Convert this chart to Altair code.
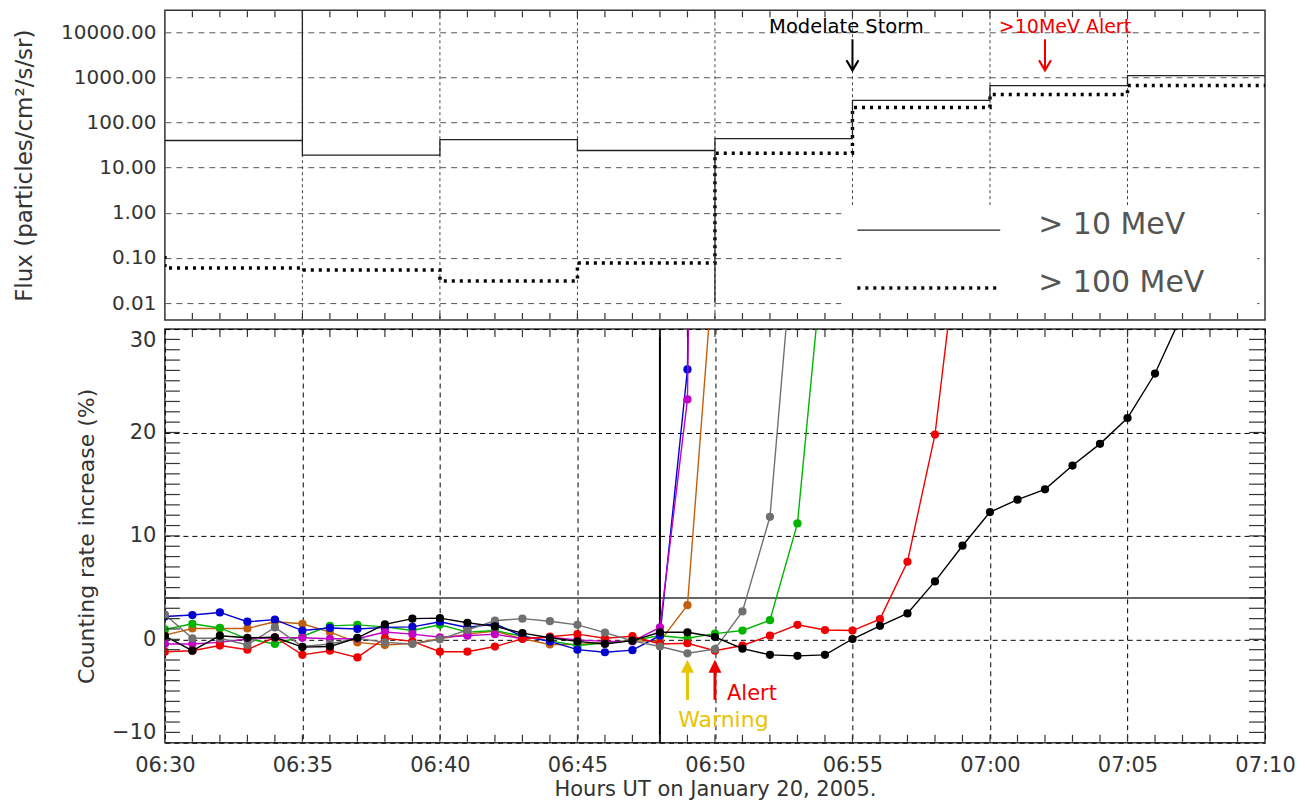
import altair as alt
import pandas as pd

FONT = "DejaVu Sans"

def tmin(s):
    h, m = s.split(":")
    return int(h) * 60 + int(m)

# ---------------- top panel: 5-minute integral proton flux ----------------
bin_starts = ["06:30", "06:35", "06:40", "06:45", "06:50", "06:55", "07:00", "07:05"]
bin_end = "07:10"
flux_gt10 = [40, 19, 42, 24, 44, 310, 660, 1100]
flux_gt100 = [0.060, 0.054, 0.031, 0.077, 21, 215, 420, 660]
flux_gt100_prev = 0.11
spikes_gt10 = {"06:35": 1e6, "06:50": 0.01}
legend_labels = ["> 10 MeV", "> 100 MeV"]
storm_time, storm_label = "06:55", "Modelate Storm"
alert10_time, alert10_label = "07:02", ">10MeV Alert"

# ---------------- bottom panel: counting rate increase (%) ----------------
times = ["06:30", "06:31", "06:32", "06:33", "06:34", "06:35", "06:36", "06:37", "06:38", "06:39",
         "06:40", "06:41", "06:42", "06:43", "06:44", "06:45", "06:46", "06:47", "06:48", "06:49",
         "06:50", "06:51", "06:52", "06:53", "06:54", "06:55", "06:56", "06:57", "06:58", "06:59",
         "07:00", "07:01", "07:02", "07:03", "07:04", "07:05", "07:06", "07:07"]
brown = [0.4, 1.05, 1.05, 1.05, 1.7, 1.5, 0.7, -0.3, -0.55, -0.4, 0.05, 0.5, 0.8, 0.05, -0.5, -0.5,
         -0.3, -0.15, -0.2, 3.3, 38]
green = [0.95, 1.5, 1.1, 0.05, -0.45, 0.3, 1.3, 1.4, 1.2, 0.85, 1.4, 0.7, 0.85, 0.3, -0.15, -0.6,
         -0.35, -0.1, 0.35, 0.1, 0.55, 0.85, 1.85, 11.2, 39]
blue = [2.2, 2.35, 2.6, 1.7, 1.9, 0.85, 1.1, 1.0, 1.15, 1.2, 1.7, 1.15, 1.5, 0.3, -0.2, -1.0,
        -1.25, -1.05, 0.35, 26.1, 250]
magenta = [-0.45, -0.45, -0.3, 0.05, 0.15, 0.15, 0.05, 0.05, 0.7, 0.5, 0.2, 0.35, 0.5, 0.05, 0.2,
           -0.05, -0.2, -0.2, 1.15, 23.2, 230]
red = [-1.2, -1.1, -0.6, -1.0, 0.2, -1.5, -1.1, -1.75, 0.1, -0.2, -1.2, -1.2, -0.7, 0.05, 0.25,
       0.5, 0.1, 0.3, -0.45, -0.38, -1.1, -0.6, 0.35, 1.4, 0.9, 0.85, 1.95, 7.5, 19.8, 42]
gray = [2.4, 0.1, 0.1, -0.55, 1.15, -0.7, -0.45, 0.1, -0.3, -0.45, 0.0, 0.9, 1.8, 2.0, 1.75, 1.4,
        0.65, -0.15, -0.7, -1.35, -0.95, 2.7, 11.85, 43]
black = [0.3, -1.1, 0.35, 0.15, 0.2, -0.75, -0.7, 0.15, 1.45, 2.0, 2.05, 1.6, 1.25, 0.6, 0.15, -0.2,
         -0.45, -0.13, 0.68, 0.68, 0.22, -0.9, -1.5, -1.6, -1.5, 0.03, 1.3, 2.5, 5.6, 9.05, 12.3,
         13.5, 14.5, 16.8, 18.9, 21.4, 25.7, 31.5]
series = [("brown", brown, "#c0600f"), ("green", green, "#00b400"), ("blue", blue, "#0000d0"),
          ("magenta", magenta, "#c400c4"), ("red", red, "#f00000"), ("gray", gray, "#707070"),
          ("black", black, "#000000")]
threshold = 4
onset_time = "06:48"
warning_time, warning_label = "06:49", "Warning"
alert_time, alert_label = "06:50", "Alert"

# ---------------- helpers ----------------
W, H1, H2 = 1101, 310, 414
YELLOW = "#e6c400"


def step_frame(vals, prev=None, spikes=None):
    rows = []
    if prev is not None:
        rows.append((tmin(bin_starts[0]), prev))
    for i, s in enumerate(bin_starts):
        t = tmin(s)
        if spikes and s in spikes:
            rows.append((t, spikes[s]))
        rows.append((t, vals[i]))
        te = tmin(bin_starts[i + 1]) if i + 1 < len(bin_starts) else tmin(bin_end)
        rows.append((te, vals[i]))
    return pd.DataFrame({"t": [r[0] for r in rows], "f": [r[1] for r in rows],
                         "i": list(range(len(rows)))})


xs = alt.Scale(domain=[tmin(times[0]), tmin(bin_end)], nice=False, zero=False)
minute_ticks = pd.DataFrame({"t": list(range(tmin(times[0]) + 1, tmin(bin_end)))})
five_min = pd.DataFrame({"t": list(range(tmin(times[0]) + 5, tmin(bin_end), 5))})
one = pd.DataFrame({"a": [0]})

XT = alt.X("t:Q", scale=xs, axis=None)
ys_top = alt.Scale(type="log", domain=[0.0042, 30700], nice=False)
YT = alt.Y("f:Q", scale=ys_top, title="Flux (particles/cm²/s/sr)",
           axis=alt.Axis(values=[0.01, 0.1, 1, 10, 100, 1000, 10000],
                         labelExpr="format(datum.value, '.2f')",
                         grid=True, gridDash=[6, 5], gridColor="#555", gridWidth=1,
                         ticks=False, domain=False, labelPadding=9, labelFontSize=20,
                         titleFontSize=23, titleX=-140, titleBaseline="middle"))

top_layers = [
    alt.Chart(five_min).mark_rule(color="#444", strokeDash=[3, 3], strokeWidth=1).encode(
        x=XT, y=alt.value(0), y2=alt.value(H1)),
    alt.Chart(one).mark_rect(color="white").encode(
        x=alt.value(677), x2=alt.value(1093), y=alt.value(195), y2=alt.value(309)),
    alt.Chart(step_frame(flux_gt100, prev=flux_gt100_prev)).mark_line(
        color="black", strokeWidth=3.5, strokeDash=[3, 5], strokeCap="butt", clip=True).encode(
        x=XT, y=YT, order="i:Q"),
    alt.Chart(step_frame(flux_gt10, spikes=spikes_gt10)).mark_line(
        color="#222", strokeWidth=1.3, clip=True).encode(x=XT, y=YT, order="i:Q"),
    alt.Chart(minute_ticks).mark_rule(color="#333", strokeWidth=1.2).encode(
        x=XT, y=alt.value(1), y2=alt.value(7)),
    alt.Chart(minute_ticks).mark_rule(color="#333", strokeWidth=1.2).encode(
        x=XT, y=alt.value(H1 - 7), y2=alt.value(H1 - 1)),
    # legend
    alt.Chart(one).mark_rule(color="#222", strokeWidth=1.3).encode(
        x=alt.value(693), x2=alt.value(836), y=alt.value(220)),
    alt.Chart(one).mark_rule(color="black", strokeWidth=3.5, strokeDash=[3, 5], strokeCap="butt").encode(
        x=alt.value(693), x2=alt.value(836), y=alt.value(278)),
    alt.Chart(pd.DataFrame({"label": [legend_labels[0]]})).mark_text(
        font=FONT, fontSize=30, color="#555", align="left", baseline="alphabetic").encode(
        x=alt.value(874), y=alt.value(224), text="label:N"),
    alt.Chart(pd.DataFrame({"label": [legend_labels[1]]})).mark_text(
        font=FONT, fontSize=30, color="#555", align="left", baseline="alphabetic").encode(
        x=alt.value(874), y=alt.value(282), text="label:N"),
    # annotations
    alt.Chart(pd.DataFrame({"t": [tmin(storm_time)], "label": [storm_label]})).mark_text(
        font=FONT, fontSize=19.5, color="black", dx=-6, baseline="alphabetic").encode(
        x=XT, y=alt.value(23), text="label:N"),
    alt.Chart(pd.DataFrame({"t": [tmin(storm_time)]})).mark_rule(color="black", strokeWidth=2).encode(
        x=XT, y=alt.value(29), y2=alt.value(59)),
    alt.Chart(pd.DataFrame({"t": [tmin(storm_time)]})).mark_point(
        shape="M-0.6,-1L0,0L0.6,-1", size=400, filled=False, strokeWidth=2.2, color="black",
        opacity=1).encode(x=XT, y=alt.value(60)),
    alt.Chart(pd.DataFrame({"t": [tmin(alert10_time)], "label": [alert10_label]})).mark_text(
        font=FONT, fontSize=19, color="#ee0000", dx=20, baseline="alphabetic").encode(
        x=XT, y=alt.value(23), text="label:N"),
    alt.Chart(pd.DataFrame({"t": [tmin(alert10_time)]})).mark_rule(color="#ee0000", strokeWidth=2).encode(
        x=XT, y=alt.value(29), y2=alt.value(59)),
    alt.Chart(pd.DataFrame({"t": [tmin(alert10_time)]})).mark_point(
        shape="M-0.6,-1L0,0L0.6,-1", size=400, filled=False, strokeWidth=2.2, color="#ee0000",
        opacity=1).encode(x=XT, y=alt.value(60)),
]
top = alt.layer(*top_layers).properties(width=W, height=H1)

# ---------------- bottom chart ----------------
label_expr = ("(floor(datum.value/60) < 10 ? '0' : '') + floor(datum.value/60) + ':' + "
              "(datum.value % 60 < 10 ? '0' : '') + (datum.value % 60)")
XB = alt.X("t:Q", scale=xs, title="Hours UT on January 20, 2005.",
           axis=alt.Axis(values=list(range(tmin(times[0]), tmin(bin_end) + 1, 5)),
                         labelExpr=label_expr, grid=True, gridDash=[5, 4], gridColor="black",
                         gridWidth=1, ticks=False, domain=False, labelFlush=False,
                         labelOverlap=False, labelPadding=12, labelFontSize=21,
                         titleFontSize=21, titlePadding=3))
ys_b = alt.Scale(domain=[-10, 30], nice=False, zero=False)
YB = alt.Y("v:Q", scale=ys_b, title="Counting rate increase (%)",
           axis=alt.Axis(values=[-10, 0, 10, 20, 30],
                         labelExpr="datum.value < 0 ? '\u2212' + abs(datum.value) : '' + datum.value",
                         grid=True, gridDash=[5, 4], gridColor="black", gridWidth=1,
                         ticks=False, domain=False, labelFlush=True, labelPadding=9,
                         labelFontSize=21, titleFontSize=22, titleX=-78, titleBaseline="middle"))

bottom_layers = [
    alt.Chart(pd.DataFrame({"v": [threshold]})).mark_rule(color="#333", strokeWidth=1.5).encode(y=YB),
    alt.Chart(pd.DataFrame({"t": [tmin(onset_time)]})).mark_rule(color="black", strokeWidth=2).encode(x=XB),
]
for name, vals, col in series:
    df = pd.DataFrame({"t": [tmin(s) for s in times[:len(vals)]], "v": vals})
    bottom_layers.append(alt.Chart(df).mark_line(color=col, strokeWidth=1.4, clip=True).encode(x=XB, y=YB))
    bottom_layers.append(alt.Chart(df).mark_circle(color=col, size=68, opacity=1, clip=True).encode(x=XB, y=YB))

ytick_df = pd.DataFrame({"v": list(range(-9, 30))})
bottom_layers += [
    alt.Chart(minute_ticks).mark_rule(color="#333", strokeWidth=1.2).encode(
        x=XB, y=alt.value(1), y2=alt.value(8)),
    alt.Chart(minute_ticks).mark_rule(color="#333", strokeWidth=1.2).encode(
        x=XB, y=alt.value(H2 - 8), y2=alt.value(H2 - 1)),
    alt.Chart(ytick_df).mark_rule(color="#333", strokeWidth=1.2).encode(
        y=YB, x=alt.value(1), x2=alt.value(15)),
    alt.Chart(ytick_df).mark_rule(color="#333", strokeWidth=1.2).encode(
        y=YB, x=alt.value(W - 16), x2=alt.value(W - 1)),
    # warning / alert arrows
    alt.Chart(pd.DataFrame({"t": [tmin(warning_time)]})).mark_rule(color=YELLOW, strokeWidth=3).encode(
        x=XB, y=alt.value(342), y2=alt.value(371)),
    alt.Chart(pd.DataFrame({"t": [tmin(warning_time)]})).mark_point(
        shape="M-0.5,1L0,0L0.5,1Z", size=676, filled=True, color=YELLOW, opacity=1).encode(
        x=XB, y=alt.value(331)),
    alt.Chart(pd.DataFrame({"t": [tmin(alert_time)]})).mark_rule(color="#ee0000", strokeWidth=3).encode(
        x=XB, y=alt.value(342), y2=alt.value(371)),
    alt.Chart(pd.DataFrame({"t": [tmin(alert_time)]})).mark_point(
        shape="M-0.5,1L0,0L0.5,1Z", size=676, filled=True, color="#ee0000", opacity=1).encode(
        x=XB, y=alt.value(331)),
    alt.Chart(pd.DataFrame({"t": [tmin(warning_time)], "label": [warning_label]})).mark_text(
        font=FONT, fontSize=22, color=YELLOW, dx=36, baseline="alphabetic").encode(
        x=XB, y=alt.value(398), text="label:N"),
    alt.Chart(pd.DataFrame({"t": [tmin(alert_time)], "label": [alert_label]})).mark_text(
        font=FONT, fontSize=21, color="#ee0000", dx=37, baseline="alphabetic").encode(
        x=XB, y=alt.value(371), text="label:N"),
]
bottom = alt.layer(*bottom_layers).properties(width=W, height=H2)

chart = alt.vconcat(top, bottom, spacing=9, bounds="flush").properties(
    padding={"left": 5, "top": 0, "right": 0, "bottom": 0}
).configure_view(stroke="#333", strokeWidth=1.5).configure_axis(
    labelFont=FONT, titleFont=FONT, labelColor="#333", titleColor="#333",
    titleFontWeight="normal"
)

chart.save("out.html", embed_options={"renderer": "svg", "actions": False})
